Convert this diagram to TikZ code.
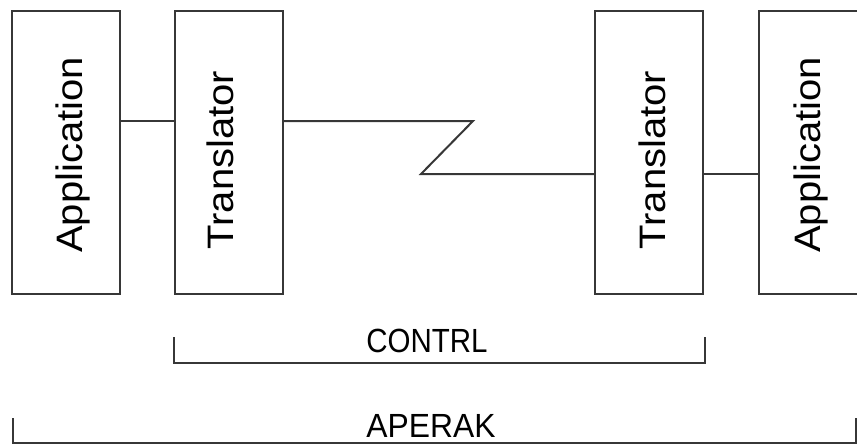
\documentclass[tikz,border=0pt]{standalone}
\usepackage{fontspec}
\setmainfont{Liberation Sans}
\usepackage{graphicx}
\usepackage{tikz}
\tikzset{
  unitbox/.style={draw=linecolor,line width=2pt,minimum width=108pt,minimum height=283pt,inner sep=0pt},
  unitlabel/.style={inner sep=0pt,font=\fontsize{40}{40}\selectfont},
  wire/.style={draw=linecolor,line width=2pt},
  brace/.style={draw=linecolor,line width=2pt},
  bracelabel/.style={anchor=base,inner sep=0pt,font=\fontsize{33.5}{33.5}\selectfont}
}
\newcommand{\uprot}[1]{\rotatebox{90}{\scalebox{1}[0.92]{#1}}}
\begin{document}
\begin{tikzpicture}[x=1pt,y=-1pt]
\definecolor{linecolor}{RGB}{55,55,55}
\useasboundingbox (0,0) rectangle (857,444);
\node [unitbox] (appl) at (65.5,152.5) {};
\node [unitbox] (trl) at (228.5,152.5) {};
\node [unitbox] (trr) at (649,152.5) {};
\node [unitbox] (appr) at (812.5,152.5) {};
\node [unitlabel] (appltext) at (73,155) {\uprot{Application}};
\node [unitlabel] (trltext) at (220.5,160) {\uprot{Translator}};
\node [unitlabel] (trrtext) at (652.5,160) {\uprot{Translator}};
\node [unitlabel] (apprtext) at (810.5,155) {\uprot{Application}};
\coordinate (zigtop) at (473,121);
\coordinate (zigbot) at (421,174);
\draw [wire] ([yshift=31.5pt]appl.east) -- ([yshift=31.5pt]trl.west);
\draw [wire] ([yshift=31.5pt]trl.east) -- (zigtop) -- (zigbot) -- ([yshift=-21.5pt]trr.west);
\draw [wire] ([yshift=-21.5pt]trr.east) -- ([yshift=-21.5pt]appr.west);
% brackets
\coordinate (ctl) at (174,337);
\coordinate (ctr) at (705,337);
\draw [brace] (ctl) -- (ctl |- 0,363) -- (ctr |- 0,363) -- (ctr);
\node [bracelabel] (contrl) at (427,352) {\scalebox{0.88}[1]{CONTRL}};
\coordinate (apl) at (13,418);
\coordinate (apr) at (856,418);
\draw [brace] (apl) -- (apl |- 0,443) -- (apr |- 0,443) -- (apr);
\node [bracelabel] (aperak) at (431,437) {\scalebox{0.95}[1]{APERAK}};
\end{tikzpicture}
\end{document}
